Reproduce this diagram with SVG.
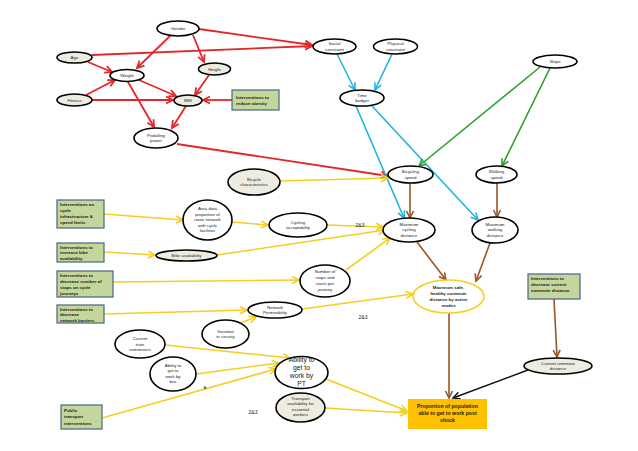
<svg xmlns="http://www.w3.org/2000/svg" width="638" height="451" viewBox="0 0 638 451">
<style>
.n{stroke:#000;stroke-width:1.6;fill:#fff}
.b{fill:#eeece1}
.bx{fill:#c3d69b;stroke:#4a6585;stroke-width:1.2}
text{font-family:"Liberation Sans",Arial,sans-serif;font-size:4.4px;fill:#222;text-anchor:middle}
.l{text-anchor:start;font-weight:bold;fill:#1a1a1a}
.r{stroke:#e3262b;stroke-width:1.8;fill:none;marker-end:url(#mr)}
.c{stroke:#1fb3e0;stroke-width:1.6;fill:none;marker-end:url(#mc)}
.g{stroke:#2aa02a;stroke-width:1.6;fill:none;marker-end:url(#mg)}
.w{stroke:#9a5523;stroke-width:1.6;fill:none;marker-end:url(#mw)}
.y{stroke:#f5cf1f;stroke-width:1.6;fill:none;marker-end:url(#my)}
.k{stroke:#111;stroke-width:1.4;fill:none;marker-end:url(#mk)}
</style>
<defs>
<marker id="mr" markerUnits="userSpaceOnUse" markerWidth="10" markerHeight="10" refX="7" refY="4" orient="auto" overflow="visible"><path d="M0,0.5 L7,4 L0,7.5" fill="none" stroke="#e3262b" stroke-width="1.8"/></marker>
<marker id="mc" markerUnits="userSpaceOnUse" markerWidth="10" markerHeight="10" refX="7" refY="4" orient="auto" overflow="visible"><path d="M0,0.5 L7,4 L0,7.5" fill="none" stroke="#1fb3e0" stroke-width="1.6"/></marker>
<marker id="mg" markerUnits="userSpaceOnUse" markerWidth="10" markerHeight="10" refX="7" refY="4" orient="auto" overflow="visible"><path d="M0,0.5 L7,4 L0,7.5" fill="none" stroke="#2aa02a" stroke-width="1.6"/></marker>
<marker id="mw" markerUnits="userSpaceOnUse" markerWidth="10" markerHeight="10" refX="7" refY="4" orient="auto" overflow="visible"><path d="M0,0.5 L7,4 L0,7.5" fill="none" stroke="#9a5523" stroke-width="1.6"/></marker>
<marker id="my" markerUnits="userSpaceOnUse" markerWidth="10" markerHeight="10" refX="7" refY="4" orient="auto" overflow="visible"><path d="M0,0.5 L7,4 L0,7.5" fill="none" stroke="#f5cf1f" stroke-width="1.6"/></marker>
<marker id="mk" markerUnits="userSpaceOnUse" markerWidth="10" markerHeight="10" refX="7" refY="4" orient="auto" overflow="visible"><path d="M0,0.5 L7,4 L0,7.5" fill="none" stroke="#111" stroke-width="1.4"/></marker>
</defs>
<rect width="638" height="451" fill="#fff"/>
<g id="connectors">
<line class="r" x1="170" y1="36" x2="137" y2="68"/>
<line class="r" x1="193" y1="35" x2="204" y2="62"/>
<line class="r" x1="199" y1="29" x2="312" y2="45"/>
<line class="r" x1="92" y1="55" x2="312" y2="46"/>
<line class="r" x1="88" y1="62" x2="112" y2="72"/>
<line class="r" x1="86" y1="95" x2="115" y2="80"/>
<line class="r" x1="92" y1="100" x2="173" y2="100"/>
<line class="r" x1="139" y1="80" x2="176" y2="96"/>
<line class="r" x1="128" y1="82" x2="154" y2="127"/>
<line class="r" x1="209" y1="75" x2="195" y2="95"/>
<line class="r" x1="186" y1="106" x2="172" y2="128"/>
<line class="r" x1="232" y1="100" x2="203" y2="100"/>
<line class="r" x1="177" y1="144" x2="388" y2="176"/>
<line class="c" x1="337" y1="54" x2="355" y2="90"/>
<line class="c" x1="392" y1="54" x2="375" y2="90"/>
<line class="c" x1="356" y1="106" x2="404" y2="218"/>
<line class="c" x1="372" y1="106" x2="478" y2="220"/>
<line class="g" x1="540" y1="67" x2="419" y2="166"/>
<line class="g" x1="550" y1="68" x2="502" y2="166"/>
<line class="w" x1="410" y1="183" x2="410" y2="218"/>
<line class="w" x1="497" y1="183" x2="497" y2="217"/>
<line class="w" x1="417" y1="242" x2="446" y2="280"/>
<line class="w" x1="490" y1="243" x2="476" y2="281"/>
<line class="w" x1="449" y1="313" x2="449" y2="398"/>
<line class="w" x1="554" y1="299" x2="557" y2="357"/>
<line class="k" x1="528" y1="370" x2="453" y2="398"/>
<line class="y" x1="280" y1="181" x2="388" y2="178"/>
<line class="y" x1="104" y1="214" x2="183" y2="220"/>
<line class="y" x1="232" y1="222" x2="268" y2="225"/>
<line class="y" x1="327" y1="225" x2="383" y2="227"/>
<line class="y" x1="217" y1="255" x2="385" y2="230"/>
<line class="y" x1="104" y1="252" x2="155" y2="255"/>
<line class="y" x1="113" y1="282" x2="299" y2="280"/>
<line class="y" x1="346" y1="270" x2="390" y2="238"/>
<line class="y" x1="104" y1="314" x2="247" y2="310"/>
<line class="y" x1="240" y1="323" x2="256" y2="317"/>
<line class="y" x1="302" y1="309" x2="413" y2="294"/>
<line class="y" x1="165" y1="345" x2="290" y2="358"/>
<line class="y" x1="196" y1="374" x2="279" y2="363"/>
<line class="y" x1="102" y1="418" x2="276" y2="369"/>
<line class="y" x1="326" y1="379" x2="407" y2="411"/>
<line class="y" x1="325" y1="408" x2="407" y2="413"/>
</g>
<g id="labels">
<text x="360" y="227" style="font-size:5px">2&amp;3</text>
<text x="363" y="319" style="font-size:5px">2&amp;3</text>
<text x="253" y="414" style="font-size:5px">2&amp;3</text>
<text x="205" y="389" style="font-size:5px">a</text>
</g>
<g id="gender"><ellipse class="n" cx="178" cy="28.5" rx="21" ry="7.5"/><text x="178" y="30">Gender</text></g>
<g id="age"><ellipse class="n b" cx="74.5" cy="57.5" rx="17.5" ry="5.5"/><text x="74.5" y="59">Age</text></g>
<g id="weight"><ellipse class="n" cx="127" cy="75.5" rx="17" ry="6"/><text x="127" y="77">Weight</text></g>
<g id="height"><ellipse class="n b" cx="214.5" cy="69" rx="16" ry="6"/><text x="214.5" y="70.5">Height</text></g>
<g id="fitness"><ellipse class="n b" cx="74.5" cy="100" rx="17.5" ry="6"/><text x="74.5" y="101.5">Fitness</text></g>
<g id="bmi"><ellipse class="n b" cx="188" cy="100.5" rx="14" ry="5.5"/><text x="188" y="102">BMI</text></g>
<g id="obesity"><rect class="bx" x="232" y="90" width="47" height="20"/><text class="l" x="236" y="98.5">Interventions to</text><text class="l" x="236" y="104.5">reduce obesity</text></g>
<g id="pedalling"><ellipse class="n" cx="156" cy="138" rx="22" ry="10"/><text x="156" y="136.5">Pedalling</text><text x="156" y="142">power</text></g>
<g id="social"><ellipse class="n" cx="334.5" cy="46.5" rx="21.5" ry="7.5"/><text x="334.5" y="45">Social</text><text x="334.5" y="50.5">constraint</text></g>
<g id="physical"><ellipse class="n" cx="395.5" cy="46.5" rx="22" ry="7.5"/><text x="395.5" y="45">Physical</text><text x="395.5" y="50.5">constraint</text></g>
<g id="timebudget"><ellipse class="n" cx="362" cy="98" rx="22" ry="8"/><text x="362" y="96.5">Time</text><text x="362" y="102">budget</text></g>
<g id="slope"><ellipse class="n" cx="555" cy="61.5" rx="22" ry="6.5"/><text x="555" y="63">Slope</text></g>
<g id="bicyclechar"><ellipse class="n b" cx="254" cy="182" rx="26" ry="13"/><text x="254" y="180.5">Bicycle</text><text x="254" y="186">characteristics</text></g>
<g id="bicyclingspeed"><ellipse class="n" cx="410.5" cy="174.5" rx="22.5" ry="8.5"/><text x="410.5" y="173">Bicycling</text><text x="410.5" y="178.5">speed</text></g>
<g id="walkingspeed"><ellipse class="n" cx="496.5" cy="174.5" rx="20.5" ry="8.5"/><text x="496.5" y="173">Walking</text><text x="496.5" y="178.5">speed</text></g>
<g id="maxcycling"><ellipse class="n" cx="409" cy="230" rx="26" ry="12"/><text x="409" y="225.5">Maximum</text><text x="409" y="231">cycling</text><text x="409" y="236.5">distance</text></g>
<g id="maxwalking"><ellipse class="n" cx="495" cy="230" rx="23" ry="13"/><text x="495" y="225.5">Maximum</text><text x="495" y="231">walking</text><text x="495" y="236.5">distance</text></g>
<g id="infra"><rect class="bx" x="57" y="200" width="47" height="28"/><text class="l" x="60" y="206">Interventions on</text><text class="l" x="60" y="212">cycle</text><text class="l" x="60" y="218">infrastructure &amp;</text><text class="l" x="60" y="224">speed limits</text></g>
<g id="areadata"><ellipse class="n" cx="207.5" cy="220" rx="24.5" ry="20"/><text x="207.5" y="210">Area data</text><text x="207.5" y="215.5">proportion  of</text><text x="207.5" y="221">route network</text><text x="207.5" y="226.5">with cycle</text><text x="207.5" y="232">facilities</text></g>
<g id="acceptability"><ellipse class="n" cx="298" cy="225" rx="29" ry="12"/><text x="298" y="223.5">Cycling</text><text x="298" y="229">acceptability</text></g>
<g id="bikeavail-int"><rect class="bx" x="57" y="243" width="47" height="19"/><text class="l" x="60" y="248.5">Interventions to</text><text class="l" x="60" y="254">increase bike</text><text class="l" x="60" y="259.5">availability</text></g>
<g id="bikeavail"><ellipse class="n b" cx="186.5" cy="255.5" rx="30.5" ry="5.5"/><text x="186.5" y="257">Bike availability</text></g>
<g id="stops-int"><rect class="bx" x="57" y="271" width="56" height="26"/><text class="l" x="60" y="276.5">Interventions to</text><text class="l" x="60" y="282.5">decrease number of</text><text class="l" x="60" y="288.5">stops on cycle</text><text class="l" x="60" y="294.5">journeys</text></g>
<g id="stops"><ellipse class="n" cx="325" cy="281" rx="25" ry="16"/><text x="325" y="272.5">Number of</text><text x="325" y="278.5">stops and</text><text x="325" y="284.5">starts per</text><text x="325" y="290.5">journey</text></g>
<g id="barriers-int"><rect class="bx" x="57" y="305" width="47" height="18"/><text class="l" x="60" y="310.5">Interventions to</text><text class="l" x="60" y="316">decrease</text><text class="l" x="60" y="321.5">network barriers</text></g>
<g id="permeability"><ellipse class="n" cx="275" cy="310" rx="27" ry="8"/><text x="275" y="308.5">Network</text><text x="275" y="314">Permeability</text></g>
<g id="circuity"><ellipse class="n" cx="225.5" cy="334" rx="23.5" ry="14"/><text x="225.5" y="332.5">Variation</text><text x="225.5" y="338">in circuity</text></g>
<g id="trains"><ellipse class="n" cx="140" cy="344" rx="25" ry="14"/><text x="140" y="340">Current</text><text x="140" y="345.5">train</text><text x="140" y="351">commuters</text></g>
<g id="bus"><ellipse class="n" cx="173" cy="374" rx="23" ry="17"/><text x="173" y="366.5">Ability to</text><text x="173" y="372">get to</text><text x="173" y="377.5">work by</text><text x="173" y="383">bus</text></g>
<g id="pt"><ellipse class="n" cx="301.5" cy="372.5" rx="26.5" ry="16"/><text x="301.5" y="362" style="font-size:6.8px">Ability to</text><text x="301.5" y="370" style="font-size:6.8px">get to</text><text x="301.5" y="378" style="font-size:6.8px">work by</text><text x="301.5" y="386" style="font-size:6.8px">PT</text></g>
<g id="essential"><ellipse class="n b" cx="300.5" cy="407.5" rx="24.5" ry="14.5"/><text x="300.5" y="399.5">Transport</text><text x="300.5" y="405">availability for</text><text x="300.5" y="410.5">essential</text><text x="300.5" y="416">workers</text></g>
<g id="pt-int"><rect class="bx" x="61" y="405" width="41" height="24"/><text class="l" x="64" y="411.5">Public</text><text class="l" x="64" y="418">transport</text><text class="l" x="64" y="424.5">interventions</text></g>
<g id="maxsafe"><ellipse cx="448.5" cy="296.5" rx="35.5" ry="16.5" fill="#fff" stroke="#f5cf1f" stroke-width="1.6"/><text x="448.5" y="288.5" style="font-weight:bold">Maximum safe,</text><text x="448.5" y="294.5" style="font-weight:bold">healthy commute</text><text x="448.5" y="300.5" style="font-weight:bold">distance by active</text><text x="448.5" y="306.5" style="font-weight:bold">modes</text></g>
<g id="commute-int"><rect class="bx" x="528" y="274" width="52" height="25" /><text class="l" x="531" y="280">Interventions to</text><text class="l" x="531" y="286">decrease  current</text><text class="l" x="531" y="292">commute distance</text></g>
<g id="commute"><ellipse class="n b" cx="558" cy="366" rx="34" ry="8"/><text x="558" y="364.5">Current commute</text><text x="558" y="370">distance</text></g>
<g id="proportion"><rect x="408" y="399" width="79" height="30" fill="#ffc000"/><text x="447.5" y="408" style="font-size:5.2px;font-weight:bold">Proportion of population</text><text x="447.5" y="415" style="font-size:5.2px;font-weight:bold">able to get to work post</text><text x="447.5" y="422" style="font-size:5.2px;font-weight:bold">shock</text></g>
</svg>
